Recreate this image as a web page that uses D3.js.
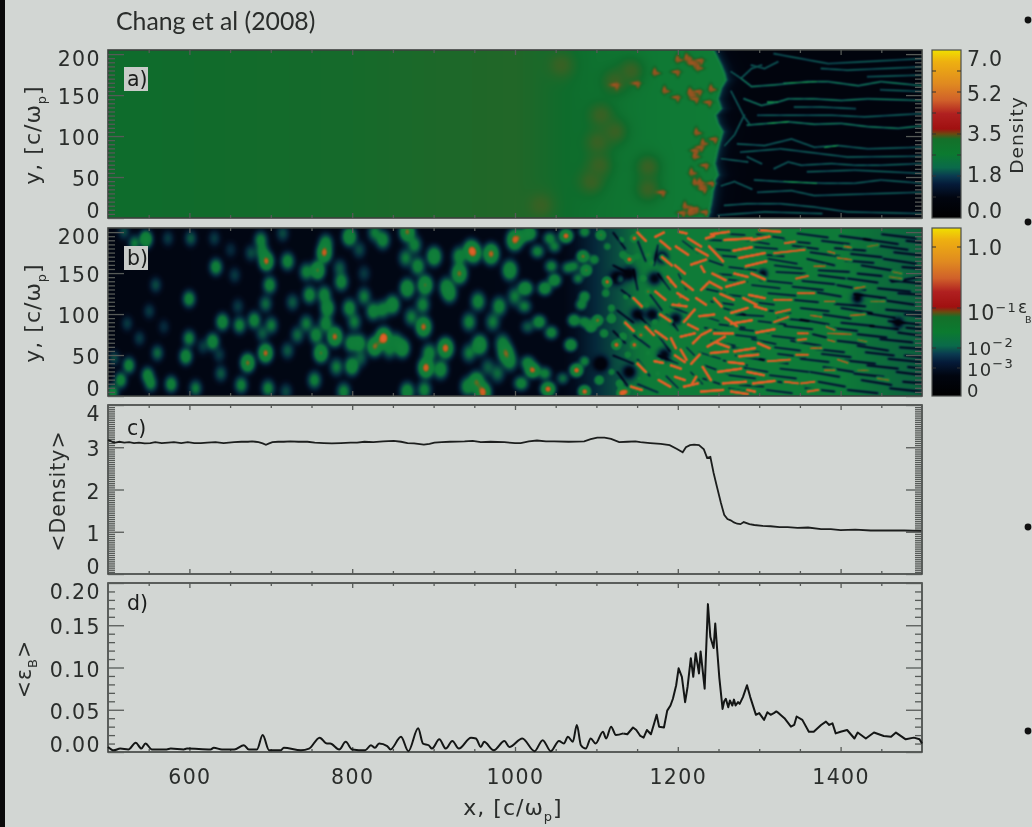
<!DOCTYPE html>
<html>
<head>
<meta charset="utf-8">
<script src="https://cdnjs.cloudflare.com/ajax/libs/d3/7.8.5/d3.min.js"></script>
<style>
  html, body { margin: 0; padding: 0; background: #d2d6d3; overflow: hidden; }
  svg { display: block; filter: blur(0.55px); }
</style>
</head>
<body>
<div id="chart"></div>
<script>
// axis ticks
var xMajorTicks = [600, 800, 1000, 1200, 1400];
var xMinorTicks = [550, 650, 700, 750, 850, 900, 950, 1050, 1100, 1150, 1250, 1300, 1350, 1450];
var yMapTicks = [0, 50, 100, 150, 200];
var yMeanTicks = [0, 1, 2, 3, 4];
var yEnergyTicks = [0, 0.05, 0.10, 0.15, 0.20];
var densityBarLabels = [0, 1.8, 3.5, 5.2, 7];
var densityBarTicks = [0.875, 1.75, 2.625, 3.5, 4.375, 5.25, 6.125];
var energyBarValues = [0, 0.001, 0.01, 0.1, 1, 2];
var energyBarTicks = [0.001, 0.01, 0.1, 1];

// panel c, <Density>
var meanX = [500,503,506,509,514,520,526,532,538,545,552,558,566,574,581,590,598,606,614,622,632,642,655,664,672,677,681,685,690,694,698,702,709,716,724,734,745,754,765,775,786,798,806,815,826,838,851,860,868,876,888,895,901,910,920,938,948,958,970,987,1000,1007,1017,1027,1038,1048,1066,1085,1093,1101,1110,1118,1128,1138,1148,1154,1166,1179,1190,1199,1206,1210,1215,1220,1226,1232,1236,1240,1244,1248,1253,1257,1261,1265,1269,1273,1277,1281,1288,1294,1304,1314,1325,1335,1347,1360,1376,1388,1400,1418,1437,1458,1478,1499];
var meanDensity = [3.17,3.15,3.12,3.11,3.13,3.11,3.12,3.10,3.11,3.09,3.10,3.12,3.10,3.11,3.12,3.10,3.12,3.10,3.10,3.11,3.12,3.10,3.12,3.13,3.13,3.14,3.13,3.12,3.09,3.06,3.09,3.12,3.13,3.13,3.14,3.13,3.13,3.11,3.10,3.09,3.10,3.11,3.11,3.13,3.12,3.14,3.15,3.13,3.10,3.09,3.06,3.08,3.11,3.12,3.13,3.14,3.15,3.12,3.13,3.12,3.10,3.10,3.14,3.16,3.14,3.14,3.13,3.14,3.19,3.23,3.23,3.20,3.12,3.13,3.14,3.12,3.10,3.08,3.05,2.96,2.88,3.00,3.05,3.06,3.05,2.95,2.75,2.77,2.39,2.07,1.68,1.40,1.30,1.27,1.22,1.19,1.18,1.23,1.18,1.16,1.14,1.13,1.11,1.11,1.09,1.10,1.06,1.06,1.04,1.05,1.03,1.03,1.03,1.02,1.01];

// panel d, <eps_B>, the quiet part up to x = 1133 and the noisy part after it
var energyX = [500,507,515,525,534,541,546,554,572,577,593,597,626,630,640,655,667,673,683,690,698,712,716,737,747,760,769,773,784,792,800,816,823,828,833,843,847,860,869,881,887,894,898,907,915,923,931,946,952,958,962,974,987,993,1009,1024,1034,1044,1054,1060,1065,1071,1076,1081,1087,1093,1099,1108,1112,1118,1124,1133];
var energyMean = [0.006,0.002,0.004,0.003,0.011,0.004,0.010,0.003,0.003,0.004,0.003,0.004,0.003,0.005,0.003,0.003,0.008,0.003,0.003,0.020,0.002,0.002,0.005,0.002,0.004,0.017,0.010,0.010,0.003,0.012,0.003,0.002,0.008,0.005,0.010,0.007,0.003,0.018,0.001,0.028,0.010,0.008,0.004,0.015,0.004,0.013,0.004,0.017,0.016,0.006,0.012,0.002,0.013,0.006,0.016,0.001,0.014,0.001,0.013,0.010,0.018,0.012,0.032,0.008,0.004,0.016,0.010,0.024,0.016,0.030,0.020,0.022];
var energyNoisyX = [1133,1138,1145,1149,1154,1158,1162,1167,1171,1174,1177,1183,1187,1191,1194,1198,1201,1205,1209,1212,1216,1219,1222,1226,1228,1233,1237,1240,1244,1246,1249,1251,1255,1257,1259,1262,1264,1267,1269,1271,1274,1276,1280,1285,1289,1296,1300,1306,1310,1314,1318,1321,1324,1331,1339,1343,1346,1353,1361,1367,1376,1382,1386,1390,1394,1400,1408,1417,1421,1431,1441,1453,1462,1468,1480,1490,1497,1500];
var energyNoisy = [0.022,0.021,0.029,0.026,0.019,0.017,0.026,0.021,0.034,0.044,0.030,0.029,0.049,0.055,0.063,0.079,0.099,0.089,0.059,0.077,0.111,0.089,0.117,0.093,0.119,0.075,0.175,0.136,0.123,0.152,0.113,0.088,0.051,0.060,0.063,0.053,0.061,0.055,0.062,0.055,0.059,0.057,0.065,0.079,0.065,0.044,0.046,0.038,0.047,0.044,0.046,0.048,0.046,0.040,0.030,0.032,0.042,0.038,0.024,0.024,0.032,0.036,0.032,0.034,0.022,0.024,0.026,0.016,0.023,0.016,0.023,0.019,0.018,0.023,0.015,0.017,0.015,0.010];

// panel a: mean level along x, shock front (y, x), patches and filaments
var mapBaseX = [500, 800, 950, 1000, 1040, 1100, 1180, 1260];
var mapBaseDensity = [3.1, 3.13, 3.17, 3.18, 3.13, 3.05, 2.98, 2.96];
var frontY = [2,16,28,45,53,67,81,93,106,116,126,134,146,159,169,177,187,197,205];
var frontX = [1236,1240,1242,1244,1249,1245,1248,1251,1255,1249,1246,1253,1249,1253,1259,1257,1253,1248,1244];
var brownPatches = [[1142,180],[1103,65],[1163,63],[1101,93],[1122,106],[1031,16],[1163,36],[1105,126],[1056,187],[1122,167],[1093,45]];
var hotPatches = [[1214,193],[1226,193],[1224,185],[1197,179],[1171,179],[1148,165],[1183,157],[1197,148],[1216,152],[1224,155],[1240,159],[1236,142],[1222,106],[1243,97],[1230,93],[1220,83],[1216,57],[1232,65],[1228,41],[1240,43],[1220,45],[1179,32],[1208,16],[1204,7],[1216,10],[1232,8],[1199,195],[1122,163],[1210,197],[1218,189],[1214,155],[1220,146],[1220,77],[1226,87],[1226,45],[1230,36],[1214,8],[1220,12]];
var filaments = [
  [1277,171,1290,161,1318,163,1359,167,1384,167,1421,162,1449,167,1499,162],
  [1281,146,1302,138,1322,142,1335,146,1367,146,1400,144,1433,146,1499,144],
  [1343,136,1376,136,1417,134],
  [1285,114,1310,116,1335,118,1367,115,1400,116,1433,112,1470,110,1499,113],
  [1298,126,1339,126,1388,126,1429,124,1499,128],
  [1273,91,1306,89,1339,97,1367,87,1396,89,1433,85,1499,87],
  [1277,81,1326,85,1367,80,1408,75,1499,76],
  [1318,61,1335,69,1351,65,1388,67,1417,65,1449,65,1499,67],
  [1253,40,1269,45,1290,36],
  [1294,47,1326,45,1380,43,1417,43,1449,47,1499,43],
  [1257,16,1285,18,1326,18,1367,14,1408,8,1499,6],
  [1298,32,1339,34,1367,28,1433,30,1499,32],
  [1249,4,1306,8,1376,6],
  [1290,187,1306,183,1322,191],
  [1318,201,1384,189,1499,195],
  [1376,183,1408,181,1499,185],
  [1265,179,1277,171,1290,183,1302,187],
  [1265,155,1281,124,1287,116],
  [1281,126,1269,102,1257,89],
  [1433,173,1499,175],
  [1449,157,1499,155],
  [1285,75,1302,67],
  [1359,57,1417,59,1499,55],
  [1253,73,1285,69]
];
var filamentHot = [[1330,165,1370,167],[1310,142,1322,142],[1310,116,1335,118],[1380,87,1396,89],[1330,45,1370,43]];

// panel b: blobs (x, y, level 0-1), hot streaks and dark lanes (x0, y0, x1, y1)
var fieldBaseX = [500, 1060, 1100, 1150, 1200, 1300, 1400, 1500];
var fieldBaseLevel = [0.04, 0.06, 0.26, 0.48, 0.56, 0.56, 0.5, 0.42];
var fieldBlobs = [
  [546,192,.8],[532,187,.5],[519,201,.35],[573,193,.3],[601,193,.4],[630,193,.3],[632,158,.6],[650,179,.25],[675,175,.35],[687,191,.55],[689,177,.55],[694,165,.95],[698,136,.6],[720,165,.6],[714,199,.35],[765,175,.95],[767,187,.6],[796,195,.75],[827,200,.5],[837,191,.6],[808,179,.35],[757,154,.85],[743,152,.55],[784,157,.4],[786,140,.6],[747,124,.6],[814,122,.5],[599,119,.6],[558,136,.35],[550,104,.3],[523,89,.3],[640,91,.65],[661,87,.55],[679,93,.6],[700,87,.5],[693,113,.45],[726,115,.4],[765,124,.6],[769,108,.7],[767,89,.6],[778,73,.95],[796,108,.6],[802,91,.5],[825,104,.6],[837,106,.55],[743,89,.5],[755,75,.6],[732,75,.45],[761,53,.85],[693,53,.95],[671,41,.9],[720,56,.4],[595,49,.65],[560,53,.45],[538,71,.3],[599,71,.55],[628,67,.65],[616,61,.3],[636,51,.3],[689,77,.4],[638,28,.4],[525,38,.6],[515,20,.6],[548,26,.6],[552,16,.55],[577,15,.6],[607,10,.5],[663,14,.55],[696,10,.55],[753,20,.55],[780,36,.5],[799,37,.7],[810,47,.4],[827,61,.9],[808,65,.65],[798,65,.6],[837,71,.8],[789,6,.55],[718,6,.35],[505,5,.6],[507,47,.35],[568,85,.25],[659,110,.3],[655,148,.3],[814,150,.3],
  [867,201,.9],[876,185,.55],[865,169,.5],[880,159,.6],[900,171,.75],[867,132,.75],[889,136,.85],[886,112,.55],[849,112,.7],[872,97,.5],[887,85,.95],[839,72,.75],[861,59,.75],[853,67,.55],[845,57,.5],[914,59,1],[890,35,1],[908,33,.65],[894,53,.6],[888,8,.55],[867,6,.65],[919,126,.65],[915,134,.6],[931,150,.9],[931,171,.6],[945,179,.8],[949,175,.8],[970,174,.95],[993,154,.75],[999,191,.95],[1007,195,.6],[1017,199,.75],[1027,177,.55],[1042,193,.55],[1062,196,1],[1048,183,.5],[1044,159,.55],[1048,142,.7],[1036,132,.7],[1012,132,.75],[999,122,.5],[980,110,.6],[954,116,.6],[943,91,.55],[972,91,.5],[956,63,.8],[943,53,.5],[988,53,.85],[984,65,.55],[993,43,.6],[1011,110,.5],[1029,91,.65],[1015,85,.4],[1044,78,.6],[1021,32,.95],[1015,41,.6],[1036,28,.55],[1040,9,1],[952,18,.85],[960,5,1],[941,12,.6],[978,28,.45],[966,36,.4],[1007,16,.6],[1058,22,.45],[1068,63,.75],[1072,93,.7],[1081,112,.6],[1085,122,.65],[1087,154,.85],[1083,171,.9],[1105,197,.85],[1085,201,.6],[1072,159,.5],[1077,144,.5],[1101,93,.9],[1093,85,.8],[1113,140,1],[1128,144,.8],[1140,167,1],[1146,193,1],[1132,173,.7],[1163,173,.85],[1150,171,.7],[1167,163,.85],[1157,144,.85],[1163,128,.9],[1136,122,.6],[1111,126,.6],[1118,108,.6],[1118,95,.8],[1154,75,.95],[1146,63,1],[1124,63,1],[1132,73,.8],[1175,43,1],[1171,91,.85],[1161,112,.75],[1075,32,1],[1085,43,.55],[1103,20,.7],[1118,30,.55],[1085,6,1],[1130,4,1],[1136,6,.9],[1128,16,.7],[1152,22,.55],[1175,28,.8],[1138,51,.65],[1163,53,.7],[1085,91,.6],[1109,77,.65],[1064,157,.5],[1130,191,.6],[1113,183,.55],[1097,167,.6],
  [1222,163,1],[1203,122,1],[1232,77,1],[1191,140,1],[1201,112,1]
];
var fieldStreaks = [[1201,201,1210,199],[1212,193,1228,183],[1197,183,1212,173],[1216,161,1234,167],[1228,159,1232,152],[1187,146,1197,134],[1199,126,1212,118],[1193,112,1210,110],[1207,91,1220,106],[1234,193,1244,196],[1238,183,1255,165],[1238,140,1253,132],[1244,120,1253,110],[1228,130,1236,138],[1226,98,1244,100],[1228,75,1240,81],[1218,65,1226,73],[1191,71,1197,59],[1203,57,1210,45],[1171,43,1181,41],[1216,40,1226,51],[1203,73,1220,77],[1191,38,1203,34],[1216,14,1222,24],[1236,61,1257,73],[1244,77,1267,77],[1240,53,1261,55],[1230,36,1240,20],[1249,30,1277,34],[1255,16,1283,18],[1207,12,1224,16],[1228,6,1255,8],[1259,134,1281,140],[1265,102,1285,108],[1265,89,1290,93],[1269,55,1294,59],[1275,49,1298,51],[1257,191,1290,193],[1275,169,1306,175],[1283,159,1308,165],[1290,191,1312,195],[1318,175,1355,179],[1269,150,1285,146],[1294,110,1308,106],[1287,124,1306,120],[1298,65,1312,59],[1292,16,1318,19],[1310,43,1337,45],[1318,91,1335,97],[1320,102,1337,106],[1345,144,1359,147],[1347,126,1367,126],[1318,118,1339,118],[1331,187,1343,189],[1347,77,1359,77],[1347,69,1357,70],[1345,51,1359,51],[1331,18,1347,16],[1351,16,1367,18],[1363,99,1376,97],[1363,59,1376,59],[1384,77,1412,76],[1384,69,1392,67],[1382,85,1392,81],[1367,159,1380,159],[1380,116,1392,116],[1404,183,1412,182],[1433,183,1445,185],[1396,169,1412,167],[1421,69,1431,67],[1417,132,1429,134],[1460,146,1474,144],[1464,152,1474,150],[1437,116,1453,116],[1384,177,1392,175],[1396,45,1408,41],[1380,32,1392,32],[1359,6,1372,8],[1285,8,1294,6],[1421,32,1433,32],[1412,99,1429,100],[1445,22,1458,20],
  [1178,190,1190,180],[1180,170,1192,160],[1172,128,1184,118],[1178,100,1190,92],[1172,80,1186,70],[1176,20,1190,12],[1196,160,1208,150],[1205,140,1218,130],[1222,120,1234,112],[1212,88,1224,82],[1196,50,1208,42],[1196,24,1208,20],[1222,180,1236,172],[1242,150,1258,142],[1252,125,1268,118],[1258,96,1272,86],[1246,66,1262,60],[1262,42,1280,40],[1268,178,1290,182],[1290,150,1306,143],[1280,120,1296,112],[1296,78,1318,82],[1285,30,1305,26],[1240,198,1262,201],[1172,195,1182,200],[1300,203,1325,201],[1265,6,1285,3],[1150,200,1160,190],[1145,120,1155,110],[1160,85,1170,75],[1135,90,1145,80],[1150,40,1160,30],[1142,12,1155,8]];
var fieldLanes = [
  [1120,200,1135,180],[1150,190,1160,165],[1175,185,1170,160],[1120,160,1140,150],[1145,155,1150,130],[1175,150,1190,130],[1130,130,1150,115],[1165,125,1180,105],[1200,150,1210,130],[1125,105,1145,90],[1150,100,1165,85],[1185,100,1200,80],[1120,80,1135,65],[1145,75,1165,60],[1175,75,1190,55],[1120,50,1145,40],[1150,45,1165,25],[1175,50,1200,40],[1125,30,1140,10],[1150,15,1175,5],[1185,25,1200,10],[1210,60,1225,45],[1215,30,1230,15],[1205,190,1225,175],[1190,110,1215,100],
  [1250,199,1282,197],[1296,198,1330,193],[1346,199,1384,194],[1398,196,1436,191],[1450,198,1492,193],
  [1236,191,1262,190],[1275,192,1312,186],[1330,190,1362,187],[1376,190,1410,186],[1428,192,1470,186],[1480,190,1500,188],
  [1240,180,1266,178],[1285,183,1322,180],[1340,184,1372,180],[1392,181,1430,178],[1446,184,1482,179],
  [1250,172,1275,170],[1292,174,1330,171],[1362,176,1398,171],[1412,174,1450,170],[1465,176,1500,172],
  [1232,168,1255,160],[1310,168,1346,162],[1358,168,1392,160],[1405,166,1440,163],[1452,168,1492,162],
  [1262,158,1296,154],[1318,160,1352,156],[1372,154,1410,152],[1425,160,1462,154],[1475,158,1500,156],
  [1240,150,1268,148],[1320,152,1356,150],[1372,148,1405,144],[1420,150,1450,147],[1462,140,1500,146],
  [1250,144,1285,140],[1300,142,1340,138],[1352,141,1392,137],[1408,144,1445,139],[1460,142,1498,138],
  [1230,132,1258,126],[1290,136,1325,132],[1340,134,1378,130],[1395,136,1430,130],[1445,132,1485,128],
  [1262,124,1296,120],[1310,126,1345,123],[1365,128,1400,122],[1416,125,1455,120],[1470,126,1500,124],
  [1240,116,1268,112],[1285,116,1318,112],[1340,118,1372,115],[1392,113,1430,110],[1448,118,1490,112],
  [1255,108,1282,100],[1300,106,1338,102],[1350,108,1385,104],[1400,108,1438,102],[1455,106,1500,102],
  [1225,100,1250,92],[1270,100,1305,98],[1322,96,1360,92],[1378,100,1412,95],[1428,102,1466,96],[1478,100,1500,98],
  [1250,88,1282,84],[1298,92,1332,88],[1350,94,1385,88],[1400,90,1440,86],[1458,92,1496,88],
  [1232,84,1258,78],[1275,82,1312,78],[1330,86,1365,82],[1384,84,1420,80],[1436,86,1470,82],[1480,84,1500,82],
  [1262,76,1296,72],[1315,74,1350,70],[1365,76,1382,72],[1420,76,1456,72],[1470,78,1500,74],
  [1240,68,1270,62],[1290,70,1320,64],[1338,68,1375,62],[1395,68,1430,64],[1448,70,1488,66],
  [1265,60,1300,54],[1318,60,1350,56],[1368,58,1404,54],[1420,62,1458,56],[1472,60,1500,58],
  [1225,54,1252,46],[1270,50,1306,44],[1322,52,1356,48],[1376,52,1412,48],[1430,54,1465,50],[1478,50,1500,48],
  [1255,44,1285,38],[1300,46,1335,40],[1350,46,1385,42],[1405,44,1442,40],[1458,46,1498,42],
  [1232,38,1260,28],[1275,36,1310,30],[1325,34,1360,30],[1378,36,1415,30],[1432,38,1470,34],[1482,36,1500,34],
  [1262,26,1295,22],[1312,26,1345,22],[1362,30,1398,24],[1416,28,1452,24],[1468,30,1500,26],
  [1230,22,1255,14],[1275,14,1305,12],[1322,18,1355,14],[1372,18,1405,12],[1425,20,1462,14],[1476,18,1500,16],
  [1262,10,1292,4],[1308,8,1340,4],[1356,10,1392,6],[1408,8,1445,4],[1460,10,1498,6]
];
var fieldHoles = [[1304,150],[1171,144],[1183,51],[1197,95],[1168,100],[1180,170],[1150,100],[1140,30],[1125,145],[1105,40],[1140,150],[1420,120],[1470,90]];

var W = 1032, H = 827;
var plotLeft = 108, plotRight = 922;
var panels = {
  a: {top: 50, bottom: 218},
  b: {top: 228, bottom: 396},
  c: {top: 405, bottom: 574},
  d: {top: 583, bottom: 752}
};
var ink = "#2a2d2b", frameInk = "#3d403e", tickInk = "#565a57";
var fontName = "'DejaVu Sans', sans-serif";

var x = d3.scaleLinear().domain([500, 1500]).range([plotLeft, plotRight]);

var svg = d3.select("#chart").append("svg").attr("width", W).attr("height", H);
svg.append("rect").attr("width", W).attr("height", H).attr("fill", "#d2d6d3");
svg.append("rect").attr("width", 5).attr("height", H).attr("fill", "#0a0a0a");

// colour ramp of the two colour bars
var barStops = [0, .12, .2, .25, .3, .38, .47, .5, .53, .62, .7, .8, .93, 1];
var barColours = ["#000000", "#01050f", "#051a38", "#0a3a50", "#0a6a4a", "#0b7a30", "#14702a", "#6a4a10", "#a01010", "#b02020", "#d0602a", "#e08a20", "#eeb010", "#f0e000"];

// colours of the two maps are a bit softer than the bars because of the smoothing
var densityColour = d3.scaleLinear()
  .domain([0, 0.5, 1.0, 1.5, 1.9, 2.3, 2.6, 2.9, 3.1, 3.3, 3.6, 4.0])
  .range(["#000208", "#010612", "#031627", "#083040", "#0b5048", "#0d6e44", "#148044", "#10823a", "#0e6c2c", "#3f5f22", "#8a5220", "#cf5a20"])
  .clamp(true);
var levelColour = d3.scaleLinear()
  .domain([0, .12, .25, .38, .5, .8, .87, .95, 1.05])
  .range(["#01030c", "#020c1e", "#05283a", "#0a5040", "#0e7a38", "#12803a", "#4f6d24", "#c05a1e", "#e0602a"])
  .clamp(true);

function gridFor(panel) {
  var w = plotRight - plotLeft, h = panel.bottom - panel.top;
  return {w: w, h: h, v: new Float32Array(w * h), acc: new Float32Array(w * h)};
}
function stamp(grid, px, py, level, sx, sy, mode) {
  var rx = Math.ceil(sx * 3), ry = Math.ceil(sy * 3);
  for (var j = Math.max(0, Math.floor(py - ry)); j <= Math.min(grid.h - 1, py + ry); j++) {
    for (var i = Math.max(0, Math.floor(px - rx)); i <= Math.min(grid.w - 1, px + rx); i++) {
      var dx = (i - px) / sx, dy = (j - py) / sy;
      var k = Math.exp(-(dx * dx + dy * dy) / 2);
      var n = j * grid.w + i;
      if (mode === "sub") grid.v[n] -= level * k;
      else if (mode === "add") grid.v[n] += (level - grid.v[n]) * k;
      else if (mode === "acc") grid.acc[n] += level * k * level * k;
      else grid.v[n] = Math.max(grid.v[n], level * k);
    }
  }
}
function stampLine(grid, xs, ys, level, sigma, mode) {
  var steps = Math.ceil(Math.hypot(xs[1] - xs[0], ys[1] - ys[0])) + 1;
  var l = mode === "sub" ? level / (sigma * 2.5) : level;
  for (var s = 0; s <= steps; s++) {
    var t = s / steps;
    stamp(grid, xs[0] + (xs[1] - xs[0]) * t, ys[0] + (ys[1] - ys[0]) * t, l, sigma, sigma, mode);
  }
}
function drawGrid(panel, grid, colour) {
  var canvas = document.createElement("canvas");
  canvas.width = grid.w; canvas.height = grid.h;
  var ctx = canvas.getContext("2d");
  var img = ctx.createImageData(grid.w, grid.h);
  var lo = colour.domain()[0], hi = colour.domain()[colour.domain().length - 1];
  var lut = d3.range(1024).map(function(i) { return d3.rgb(colour(lo + (hi - lo) * i / 1023)); });
  var rgb = [new Float32Array(grid.v.length), new Float32Array(grid.v.length), new Float32Array(grid.v.length)];
  for (var n = 0; n < grid.v.length; n++) {
    var c = lut[Math.max(0, Math.min(1023, Math.round((grid.v[n] - lo) / (hi - lo) * 1023)))];
    rgb[0][n] = c.r; rgb[1][n] = c.g; rgb[2][n] = c.b;
  }
  // soften like the video frame this comes from: 1-2-1 in both directions
  rgb.forEach(function(ch, c2) {
    var out = new Float32Array(ch.length);
    for (var j = 0; j < grid.h; j++) for (var i = 0; i < grid.w; i++) {
      var l = i > 0 ? i - 1 : i, r = i < grid.w - 1 ? i + 1 : i;
      var u = j > 0 ? j - 1 : j, d = j < grid.h - 1 ? j + 1 : j;
      out[j * grid.w + i] = (ch[u * grid.w + l] + 2 * ch[u * grid.w + i] + ch[u * grid.w + r]
        + 2 * ch[j * grid.w + l] + 4 * ch[j * grid.w + i] + 2 * ch[j * grid.w + r]
        + ch[d * grid.w + l] + 2 * ch[d * grid.w + i] + ch[d * grid.w + r]) / 16;
    }
    for (var m = 0; m < out.length; m++) img.data[4 * m + c2] = out[m];
  });
  for (var q = 0; q < grid.v.length; q++) img.data[4 * q + 3] = 255;
  ctx.putImageData(img, 0, 0);
  svg.append("image")
    .attr("x", plotLeft).attr("y", panel.top)
    .attr("width", grid.w).attr("height", grid.h)
    .attr("href", canvas.toDataURL());
}

// panel a
var yA = d3.scaleLinear().domain([0, 205]).range([panels.a.bottom, panels.a.top]);
var ga = gridFor(panels.a);
var aBase = d3.scaleLinear().domain(mapBaseX).range(mapBaseDensity).clamp(true);
var aFront = d3.scaleLinear().domain(frontY).range(frontX).clamp(true);
for (var j = 0; j < ga.h; j++) {
  var frontPx = x(aFront(yA.invert(j + panels.a.top))) - plotLeft;
  for (var i = 0; i < ga.w; i++) {
    var d = i - frontPx;
    var inside = aBase(x.invert(i + plotLeft));
    var outside = 1.5 * Math.exp(-Math.max(d, 0) / 7) + 0.25;
    ga.v[j * ga.w + i] = d < -2 ? inside : d > 2 ? outside : inside + (outside - inside) * (d + 2) / 4;
  }
}
brownPatches.forEach(function(p) {
  stamp(ga, x(p[0]) - plotLeft, yA(p[1]) - panels.a.top, 3.27, 9, 9, "add");
});
hotPatches.forEach(function(p, n) {
  // each patch is a small jagged cross rather than a round spot
  var px = x(p[0]) - plotLeft, py = yA(p[1]) - panels.a.top;
  stamp(ga, px, py, 3.75, n % 2 ? 3.2 : 1.5, n % 2 ? 1.3 : 2.8, "add");
  stamp(ga, px + 2, py + 1.5, 3.65, n % 2 ? 1.4 : 2.8, n % 2 ? 2.4 : 1.3, "add");
});
filaments.forEach(function(f, n) {
  for (var s = 0; s + 3 < f.length; s += 2) {
    stampLine(ga, [x(f[s]) - plotLeft, x(f[s + 2]) - plotLeft],
      [yA(f[s + 1]) - panels.a.top, yA(f[s + 3]) - panels.a.top], n < 2 || n === 3 ? 2.35 : 2.05, 1, "max");
  }
});
filamentHot.forEach(function(f) {
  stampLine(ga, [x(f[0]) - plotLeft, x(f[2]) - plotLeft],
    [yA(f[1]) - panels.a.top, yA(f[3]) - panels.a.top], 3.1, 0.8, "max");
});
drawGrid(panels.a, ga, densityColour);

// panel b
var yB = d3.scaleLinear().domain([0, 205]).range([panels.b.bottom, panels.b.top]);
var gb = gridFor(panels.b);
var bBase = d3.scaleLinear().domain(fieldBaseX).range(fieldBaseLevel).clamp(true);
var blobWidth = d3.scaleLinear().domain([500, 800, 1000, 1180]).range([4.8, 5.5, 5.8, 3.4]).clamp(true);
fieldBlobs.forEach(function(p) {
  var s = blobWidth(p[0]);
  stamp(gb, x(p[0]) - plotLeft, yB(p[1]) - panels.b.top, p[2], s, p[0] < 1000 ? s * 1.3 : s, "acc");
});
for (var n2 = 0; n2 < gb.v.length; n2++) {
  gb.v[n2] = Math.max(bBase(x.invert(plotLeft + (n2 % gb.w))), Math.sqrt(gb.acc[n2]));
}
fieldHoles.forEach(function(p) {
  var s = p[0] > 1280 ? 3.5 : 4.5;
  stamp(gb, x(p[0]) - plotLeft, yB(p[1]) - panels.b.top, 0.5, s, s, "sub");
});
fieldLanes.forEach(function(f) {
  var xs = [x(f[0]) - plotLeft, x(f[2]) - plotLeft], ys = [yB(f[1]) - panels.b.top, yB(f[3]) - panels.b.top];
  stampLine(gb, xs, ys, f[0] < 1230 ? 0.26 : 0.33, 0.85, "sub");
});
fieldStreaks.forEach(function(f) {
  var xs = [x(f[0]) - plotLeft, x(f[2]) - plotLeft], ys = [yB(f[1]) - panels.b.top, yB(f[3]) - panels.b.top];
  var level = f[0] > 1420 ? 0.93 : f[0] > 1360 ? 0.98 : f[0] > 1300 ? 1.05 : 1.15;
  stampLine(gb, xs, ys, level, f[0] > 1360 ? 1.7 : 2, "max");
});
drawGrid(panels.b, gb, levelColour);

// colour bars
var defs = svg.append("defs");
var grad = defs.append("linearGradient").attr("id", "barRamp").attr("x1", 0).attr("y1", 1).attr("x2", 0).attr("y2", 0);
barStops.forEach(function(s, i) {
  grad.append("stop").attr("offset", s).attr("stop-color", barColours[i]);
});
var barLeft = 932, barRight = 961;
var yDensityBar = d3.scaleLinear().domain([0, 7]).range([panels.a.bottom, panels.a.top]);
var yEnergyBar = d3.scaleLinear().domain(energyBarValues).range([396, 368, 348, 308, 247, 228]);

function colourBar(panel, scale, ticks) {
  svg.append("rect")
    .attr("x", barLeft).attr("y", panel.top)
    .attr("width", barRight - barLeft).attr("height", panel.bottom - panel.top)
    .attr("fill", "url(#barRamp)").attr("stroke", "#4c4f4d").attr("stroke-width", 1.2);
  var t = svg.append("g");
  t.selectAll("path").data(ticks).enter().append("path")
    .attr("d", function(v) {
      var y = scale(v);
      return "M" + barLeft + "," + y + "h4M" + barRight + "," + y + "h-4";
    })
    .attr("stroke", "#333").attr("stroke-width", 1.2);
}
colourBar(panels.a, yDensityBar, densityBarTicks);
colourBar(panels.b, yEnergyBar, energyBarTicks);

function barLabel(y, txt, size) {
  return svg.append("text").attr("x", 967).attr("y", y)
    .attr("dy", "0.36em").attr("font-family", fontName).attr("font-size", size || 20.5)
    .attr("letter-spacing", 1.2).attr("fill", ink).text(txt);
}
densityBarLabels.forEach(function(v) {
  var y = Math.max(59, Math.min(211, yDensityBar(v)));
  barLabel(y, v.toFixed(1));
});
barLabel(248, "1.0");
[[yEnergyBar(0.1) + 5, "\u22121", 20.5], [349, "\u22122", 18], [370, "\u22123", 18]].forEach(function(l) {
  var t = barLabel(l[0], "10", l[2]);
  t.append("tspan").attr("font-size", 13).attr("dy", -8).text(l[1]);
});
barLabel(391, "0", 18);

// frames and axes
function axes(panel, y, yTicks, yMinor, yFormat, withXLabels) {
  var g = svg.append("g");
  g.append("rect")
    .attr("x", plotLeft).attr("y", panel.top)
    .attr("width", plotRight - plotLeft).attr("height", panel.bottom - panel.top)
    .attr("fill", "none").attr("stroke", frameInk).attr("stroke-width", 1.6);

  function side(axis, at, labelled) {
    var a = g.append("g").attr("transform", at).call(axis);
    a.select(".domain").remove();
    a.selectAll(".tick line").attr("stroke", tickInk).attr("stroke-width", 1.3);
    if (!labelled) a.selectAll("text").remove();
    return a;
  }
  var atBottom = "translate(0," + panel.bottom + ")", atTop = "translate(0," + panel.top + ")";
  side(d3.axisBottom(x).tickValues(xMinorTicks).tickSize(-3).tickSizeOuter(0), atBottom);
  side(d3.axisTop(x).tickValues(xMinorTicks).tickSize(-3).tickSizeOuter(0), atTop);
  side(d3.axisTop(x).tickValues(xMajorTicks).tickSize(-5).tickSizeOuter(0), atTop);
  var bottom = side(d3.axisBottom(x).tickValues(xMajorTicks).tickSize(-5).tickSizeOuter(0).tickPadding(17).tickFormat(d3.format("d")), atBottom, withXLabels);
  if (withXLabels) bottom.selectAll("text").attr("font-family", fontName).attr("font-size", 20.5).attr("letter-spacing", 1.4).attr("fill", ink);

  var atLeft = "translate(" + plotLeft + ",0)", atRight = "translate(" + plotRight + ",0)";
  side(d3.axisLeft(y).tickValues(yMinor).tickSize(-7).tickSizeOuter(0), atLeft);
  side(d3.axisRight(y).tickValues(yMinor).tickSize(-7).tickSizeOuter(0), atRight);
  side(d3.axisRight(y).tickValues(yTicks).tickSize(-16).tickSizeOuter(0), atRight);
  var left = side(d3.axisLeft(y).tickValues(yTicks).tickSize(-16).tickSizeOuter(0).tickPadding(7).tickFormat(yFormat), atLeft, true);
  left.selectAll("text")
    .attr("font-family", fontName).attr("font-size", 20.5).attr("letter-spacing", 1.4).attr("fill", ink)
    .attr("y", function(v) {
      var wanted = Math.max(panel.top + 9, Math.min(panel.bottom - 7, y(v) + 2));
      return wanted - y(v);
    });
}
function minorTicks(lo, hi, step, major) {
  return d3.range(Math.round((hi - lo) / step) + 1).map(function(i) { return lo + i * step; })
    .filter(function(v) { return major.indexOf(+v.toFixed(4)) < 0; });
}
var yC = d3.scaleLinear().domain([0, 4]).range([panels.c.bottom, panels.c.top]);
var yD = d3.scaleLinear().domain([0, 0.2]).range([panels.d.bottom, panels.d.top]);

axes(panels.a, yA, yMapTicks, minorTicks(0, 200, 5, yMapTicks), d3.format("d"), false);
axes(panels.b, yB, yMapTicks, minorTicks(0, 200, 5, yMapTicks), d3.format("d"), false);
axes(panels.c, yC, yMeanTicks, minorTicks(0, 4, 0.05, yMeanTicks), d3.format("d"), false);
axes(panels.d, yD, yEnergyTicks, minorTicks(0, 0.2, 0.01, yEnergyTicks), d3.format(".2f"), true);

// the two profiles
var meanLine = d3.line().x(function(d, i) { return x(meanX[i]); }).y(function(d) { return yC(d); });
var energyLine = d3.line().curve(d3.curveMonotoneX).x(function(d, i) { return x(energyX[i]); }).y(function(d) { return yD(d); });
var energyNoisyLine = d3.line().x(function(d, i) { return x(energyNoisyX[i]); }).y(function(d) { return yD(d); });
svg.append("path").datum(meanDensity).attr("d", meanLine)
  .attr("fill", "none").attr("stroke", "#1c1e1d").attr("stroke-width", 1.8);
svg.append("path").datum(energyMean).attr("d", energyLine)
  .attr("fill", "none").attr("stroke", "#141615").attr("stroke-width", 2).attr("stroke-linejoin", "round");
svg.append("path").datum(energyNoisy).attr("d", energyNoisyLine)
  .attr("fill", "none").attr("stroke", "#141615").attr("stroke-width", 2).attr("stroke-linejoin", "round");

// texts
svg.append("text").attr("x", 116).attr("y", 30)
  .attr("font-family", "Lato, sans-serif").attr("font-size", 24.8).attr("fill", ink)
  .text("Chang et al (2008)");

function panelTag(top, txt, boxed) {
  if (boxed) {
    svg.append("rect").attr("x", 124).attr("y", top).attr("width", 24).attr("height", 24).attr("fill", "#c9ccc9");
  }
  svg.append("text").attr("x", 127).attr("y", top + 12).attr("dy", "0.35em")
    .attr("font-family", fontName).attr("font-size", 20.5).attr("fill", "#1a1c1b").text(txt);
}
panelTag(67, "a)", true);
panelTag(246, "b)", true);
panelTag(416, "c)", false);
panelTag(591, "d)", false);

function rotated(cx, cy, size, parts) {
  var t = svg.append("text")
    .attr("transform", "translate(" + cx + "," + cy + ") rotate(-90)")
    .attr("text-anchor", "middle").attr("font-family", fontName)
    .attr("font-size", size).attr("letter-spacing", 1).attr("fill", ink);
  parts(t);
}
function omegaLabel(t, name) {
  t.append("tspan").text(name + ", [c/\u03c9");
  t.append("tspan").attr("font-size", 13).attr("dy", 6).text("p");
  t.append("tspan").attr("dy", -6).text("]");
}
rotated(40, 135, 22, function(t) { omegaLabel(t, "y"); });
rotated(40, 313, 22, function(t) { omegaLabel(t, "y"); });
rotated(65, 491, 20.5, function(t) { t.text("<Density>"); });
rotated(31, 669, 20.5, function(t) {
  t.append("tspan").text("<\u03b5");
  t.append("tspan").attr("font-size", 13).attr("dy", 6).text("B");
  t.append("tspan").attr("dy", -6).text(">");
});
var xLabel = svg.append("text").attr("x", 513).attr("y", 815)
  .attr("text-anchor", "middle").attr("font-family", fontName)
  .attr("font-size", 22).attr("letter-spacing", 1).attr("fill", ink);
omegaLabel(xLabel, "x");

rotated(1023, 135, 18.5, function(t) { t.text("Density"); });
svg.append("text").attr("x", 1018).attr("y", 313)
  .attr("font-family", fontName).attr("font-size", 17).attr("fill", ink).text("\u03b5");
svg.append("text").attr("x", 1025).attr("y", 323)
  .attr("font-family", fontName).attr("font-size", 9.5).attr("fill", ink).text("B");

// bullets of the slide behind the figure
svg.selectAll("circle.bullet").data([20, 222, 527, 731]).enter().append("circle")
  .attr("class", "bullet").attr("cx", 1028).attr("cy", function(d) { return d; })
  .attr("r", 3.4).attr("fill", "#111");
</script>
</body>
</html>
